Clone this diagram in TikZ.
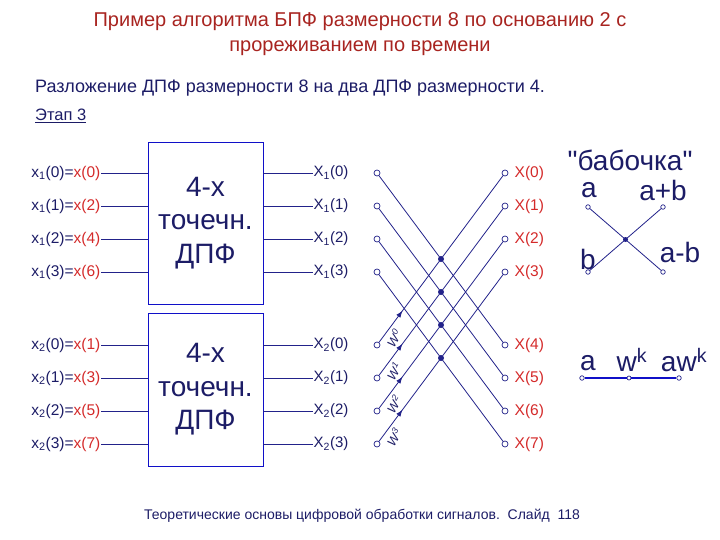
\documentclass[tikz,border=0pt]{standalone}
\usepackage{fontspec}
\setmainfont{Liberation Sans}
\usetikzlibrary{arrows.meta,calc,decorations.markings}
\definecolor{navy}{HTML}{1C1C66}
\definecolor{wireblue}{HTML}{22228A}
\definecolor{boxblue}{HTML}{1010C8}
\definecolor{titlered}{HTML}{A82420}
\definecolor{sigred}{HTML}{D42A2A}

\begin{document}
\begin{tikzpicture}[
    x=1pt, y=-1pt,
    every node/.style={text=navy},
    inlbl/.style={anchor=east, inner sep=0.5pt, font=\fontsize{15.5}{18}\selectfont},
    outlbl/.style={anchor=west, inner sep=0.5pt, font=\fontsize{15}{18}\selectfont},
    xlbl/.style={anchor=west, inner sep=0.5pt, text=sigred, font=\fontsize{15.5}{18}\selectfont},
    dft/.style={draw=boxblue, line width=0.9pt, align=center, minimum width=115pt, font=\fontsize{28}{33.5}\selectfont},
    port/.style={draw=wireblue, circle, fill=white, inner sep=0pt, minimum size=6pt, line width=0.7pt},
    junction/.style={circle, fill=wireblue, inner sep=0pt, minimum size=6pt},
    wire/.style={draw=wireblue, line width=0.8pt},
    twiddle/.style={postaction={decorate}, decoration={markings, mark=at position 0.19 with {\arrow{Latex[length=7pt,width=5pt]}}}},
    wlbl/.style={rotate=60, inner sep=0pt, font=\itshape\fontsize{12.5}{14}\selectfont},
    big/.style={font=\fontsize{28}{30}\selectfont}
]
\useasboundingbox (0,0) rectangle (720,540);

% headings
\node[text=titlered, align=center, font=\fontsize{20}{25}\selectfont] (title) at (360,34)
    {Пример алгоритма БПФ размерности 8 по основанию 2 с\\прореживанием по времени};
\node[anchor=west, inner sep=0pt, font=\fontsize{18}{20}\selectfont] (sub) at (35,88)
    {Разложение ДПФ размерности 8 на два ДПФ размерности 4.};
\node[anchor=west, inner sep=0pt, font=\fontsize{16.5}{18}\selectfont] (stage) at (35,116) {\underline{Этап 3}};

% two 4-point DFT blocks
\node[dft, minimum height=162pt] (dft1) at (205.5,223) {4-х\\точечн.\\ДПФ};
\node[dft, minimum height=153pt] (dft2) at (205.5,389.5) {4-х\\точечн.\\ДПФ};

% inputs
\node[inlbl] (in0) at (101,173) {x\textsubscript{1}(0)=\textcolor{sigred}{x(0)}};
\node[inlbl] (in1) at (101,206) {x\textsubscript{1}(1)=\textcolor{sigred}{x(2)}};
\node[inlbl] (in2) at (101,239) {x\textsubscript{1}(2)=\textcolor{sigred}{x(4)}};
\node[inlbl] (in3) at (101,272) {x\textsubscript{1}(3)=\textcolor{sigred}{x(6)}};
\node[inlbl] (in4) at (101,345) {x\textsubscript{2}(0)=\textcolor{sigred}{x(1)}};
\node[inlbl] (in5) at (101,378) {x\textsubscript{2}(1)=\textcolor{sigred}{x(3)}};
\node[inlbl] (in6) at (101,411) {x\textsubscript{2}(2)=\textcolor{sigred}{x(5)}};
\node[inlbl] (in7) at (101,444) {x\textsubscript{2}(3)=\textcolor{sigred}{x(7)}};
\draw[wire] (in0.east) -- (dft1.west |- in0);
\draw[wire] (in1.east) -- (dft1.west |- in1);
\draw[wire] (in2.east) -- (dft1.west |- in2);
\draw[wire] (in3.east) -- (dft1.west |- in3);
\draw[wire] (in4.east) -- (dft2.west |- in4);
\draw[wire] (in5.east) -- (dft2.west |- in5);
\draw[wire] (in6.east) -- (dft2.west |- in6);
\draw[wire] (in7.east) -- (dft2.west |- in7);

% block outputs
\node[outlbl] (o0) at (313,173) {X\textsubscript{1}(0)};
\node[outlbl] (o1) at (313,206) {X\textsubscript{1}(1)};
\node[outlbl] (o2) at (313,239) {X\textsubscript{1}(2)};
\node[outlbl] (o3) at (313,272) {X\textsubscript{1}(3)};
\node[outlbl] (o4) at (313,345) {X\textsubscript{2}(0)};
\node[outlbl] (o5) at (313,378) {X\textsubscript{2}(1)};
\node[outlbl] (o6) at (313,411) {X\textsubscript{2}(2)};
\node[outlbl] (o7) at (313,444) {X\textsubscript{2}(3)};
\draw[wire] (dft1.east |- o0) -- (o0.west);
\draw[wire] (dft1.east |- o1) -- (o1.west);
\draw[wire] (dft1.east |- o2) -- (o2.west);
\draw[wire] (dft1.east |- o3) -- (o3.west);
\draw[wire] (dft2.east |- o4) -- (o4.west);
\draw[wire] (dft2.east |- o5) -- (o5.west);
\draw[wire] (dft2.east |- o6) -- (o6.west);
\draw[wire] (dft2.east |- o7) -- (o7.west);

% butterfly ports
\node[port] (l0) at (377,173) {};
\node[port] (l1) at (377,206) {};
\node[port] (l2) at (377,239) {};
\node[port] (l3) at (377,272) {};
\node[port] (l4) at (377,345) {};
\node[port] (l5) at (377,378) {};
\node[port] (l6) at (377,411) {};
\node[port] (l7) at (377,444) {};
\node[port] (r0) at (505,173) {};
\node[port] (r1) at (505,206) {};
\node[port] (r2) at (505,239) {};
\node[port] (r3) at (505,272) {};
\node[port] (r4) at (505,345) {};
\node[port] (r5) at (505,378) {};
\node[port] (r6) at (505,411) {};
\node[port] (r7) at (505,444) {};
\node[xlbl] (X0) at (514,173) {X(0)};
\node[xlbl] (X1) at (514,206) {X(1)};
\node[xlbl] (X2) at (514,239) {X(2)};
\node[xlbl] (X3) at (514,272) {X(3)};
\node[xlbl] (X4) at (514,345) {X(4)};
\node[xlbl] (X5) at (514,378) {X(5)};
\node[xlbl] (X6) at (514,411) {X(6)};
\node[xlbl] (X7) at (514,444) {X(7)};

% crossings
\draw[wire] (l0) -- (r4);
\draw[wire] (l1) -- (r5);
\draw[wire] (l2) -- (r6);
\draw[wire] (l3) -- (r7);
\draw[wire, twiddle] (l4) -- (r0);
\draw[wire, twiddle] (l5) -- (r1);
\draw[wire, twiddle] (l6) -- (r2);
\draw[wire, twiddle] (l7) -- (r3);
\node[junction] (j0) at ($(l0)!0.5!(r4)$) {};
\node[junction] (j1) at ($(l1)!0.5!(r5)$) {};
\node[junction] (j2) at ($(l2)!0.5!(r6)$) {};
\node[junction] (j3) at ($(l3)!0.5!(r7)$) {};
\node[wlbl] (w0) at (394,338) {W\textsuperscript{0}};
\node[wlbl] (w1) at (394,371) {W\textsuperscript{1}};
\node[wlbl] (w2) at (394,404) {W\textsuperscript{2}};
\node[wlbl] (w3) at (394,437) {W\textsuperscript{3}};

% legend: butterfly
\node[big] (bname) at (630,160) {\textquotedbl бабочка\textquotedbl};
\node[big] (ta) at (589,190) {a};
\node[big] (tab) at (663,190) {a+b};
\node[big] (tb) at (588,259) {b};
\node[big] (tamb) at (680,252) {a-b};
\node[port, minimum size=4.5pt] (ba) at (588,207) {};
\node[port, minimum size=4.5pt] (bapb) at (663,207) {};
\node[port, minimum size=4.5pt] (bb) at (588,272) {};
\node[port, minimum size=4.5pt] (bamb) at (663,272) {};
\node[junction, minimum size=5pt] (bc) at (625.5,239.5) {};
\draw[wire] (ba) -- (bamb);
\draw[wire] (bb) -- (bapb);

% legend: multiplier
\node[big] (ma) at (588,363) {a};
\node[big] (mw) at (632,360) {w\textsuperscript{k}};
\node[big] (maw) at (684,360) {aw\textsuperscript{k}};
\node[port, minimum size=4.5pt] (p1) at (582,378) {};
\node[port, minimum size=4pt] (p2) at (629,378) {};
\node[port, minimum size=4.5pt] (p3) at (679,378) {};
\draw[draw=boxblue, line width=1.6pt] (p1) -- (p2);
\draw[draw=boxblue, line width=1.6pt] (p2) -- (p3);

% footer
\node[font=\fontsize{14}{16}\selectfont] (foot) at (362,516)
    {Теоретические основы цифровой обработки сигналов.\ \ Слайд\ \ 118};
\end{tikzpicture}
\end{document}
